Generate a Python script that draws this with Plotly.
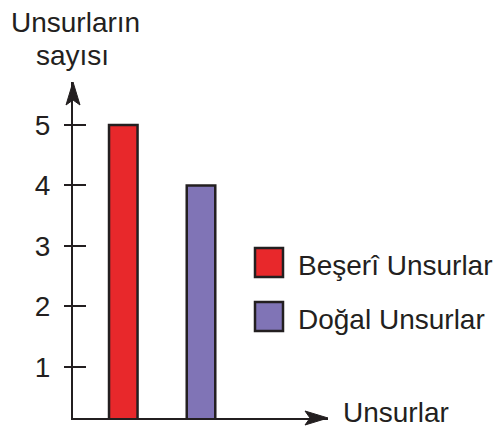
import plotly.graph_objects as go

# veriler
kategoriler = ["Beşerî Unsurlar", "Doğal Unsurlar"]
unsur_sayisi = [5, 4]
renkler = ["#e8282b", "#8074b6"]
y_tikler = [1, 2, 3, 4, 5]
y_baslik = ["Unsurların", "sayısı"]
x_baslik = "Unsurlar"

W, H = 503, 429
ML, MR, MT, MB = 73, 175, 82, 11
PW, PH = W - ML - MR, H - MT - MB
FONT = "Liberation Sans, Arial, sans-serif"
INK = "#231f20"
FS = 28
Y_RANGE = [0.157, 5.71]


def px_x(x):
    return (x - ML) / PW


def px_y(y):
    return (H - MB - y) / PH


fig = go.Figure(
    go.Bar(
        x=kategoriler,
        y=unsur_sayisi,
        width=0.367,
        marker=dict(color=renkler, line=dict(color=INK, width=2.5)),
        showlegend=False,
        hoverinfo="x+y",
    )
)
# içe doğru tik çizgileri için ikinci y ekseni (boş iz)
fig.add_trace(go.Scatter(x=[], y=[], yaxis="y2", showlegend=False, hoverinfo="skip"))

shapes = [
    # ok uçları
    dict(type="path", xref="paper", yref="paper", xsizemode="pixel", ysizemode="pixel",
         xanchor=0, yanchor=1, path="M0,0 L7,-23 L0,-18 L-7,-23 Z",
         fillcolor=INK, line=dict(color=INK, width=1)),
    dict(type="path", xref="paper", yref="paper", xsizemode="pixel", ysizemode="pixel",
         xanchor=1, yanchor=0, path="M0,0 L-23,7 L-18,0 L-23,-7 Z",
         fillcolor=INK, line=dict(color=INK, width=1)),
]

annotations = [
    dict(text=y_baslik[0], xref="paper", yref="paper", x=px_x(75), y=px_y(23),
         xanchor="center", yanchor="middle", showarrow=False),
    dict(text=y_baslik[1], xref="paper", yref="paper", x=px_x(72), y=px_y(55),
         xanchor="center", yanchor="middle", showarrow=False),
    dict(text=x_baslik, xref="paper", yref="paper", x=px_x(341), y=px_y(412),
         xanchor="left", yanchor="middle", showarrow=False),
]

# lejant
for i, (ad, renk) in enumerate(zip(kategoriler, renkler)):
    top = 248 + i * 54
    shapes.append(dict(type="rect", xref="paper", yref="paper",
                       x0=px_x(255), x1=px_x(283), y0=px_y(top), y1=px_y(top + 29),
                       fillcolor=renk, line=dict(color=INK, width=2.5)))
    annotations.append(dict(text=ad, xref="paper", yref="paper", x=px_x(296),
                            y=px_y(top + 17), xanchor="left", yanchor="middle",
                            showarrow=False))

fig.update_layout(
    width=W,
    height=H,
    margin=dict(l=ML, r=MR, t=MT, b=MB),
    paper_bgcolor="white",
    plot_bgcolor="white",
    font=dict(family=FONT, size=FS, color=INK),
    xaxis=dict(range=[-0.647, 2.634], showline=True, linewidth=2, linecolor=INK,
               showticklabels=False, ticks="", showgrid=False, zeroline=False),
    yaxis=dict(range=Y_RANGE, tickvals=y_tikler, ticks="outside", ticklen=7,
               tickwidth=2, tickcolor=INK, showline=True, linewidth=2, linecolor=INK,
               showgrid=False, zeroline=False, ticklabelstandoff=8),
    yaxis2=dict(range=Y_RANGE, overlaying="y", side="left", tickvals=y_tikler,
                ticks="inside", ticklen=13, tickwidth=2, tickcolor=INK,
                showticklabels=False, showline=False, showgrid=False, zeroline=False),
    shapes=shapes,
    annotations=annotations,
)

# sayfanın varsayılan 8px kenar boşluğunu kaldır
fig.write_html("out.html", config={"displayModeBar": False},
               post_script="document.body.style.margin='0';")
